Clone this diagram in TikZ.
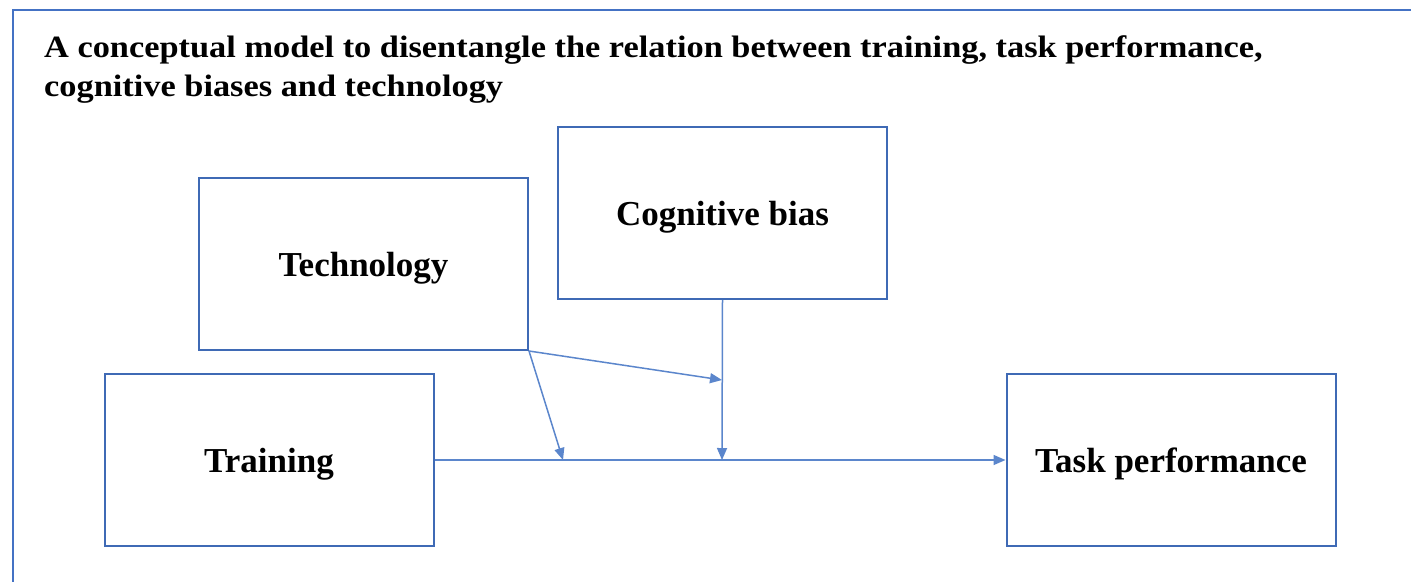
\documentclass[tikz,border=0pt]{standalone}
\usepackage{fontspec}
\setmainfont{Liberation Serif}
\newfontfamily\titlefont[FakeStretch=1.108]{Liberation Serif}
\usetikzlibrary{arrows.meta}
\definecolor{frameblue}{HTML}{4472C4}
\definecolor{boxblue}{HTML}{3F6AB5}
\definecolor{arrowblue}{HTML}{5B86CC}
\begin{document}
\begin{tikzpicture}[x=1pt,y=1pt,
  box/.style={draw=boxblue,line width=2pt,minimum width=329pt,minimum height=172pt,inner sep=0pt,text height=25pt,text depth=0pt,font=\bfseries\fontsize{35}{40}\selectfont},
  titletext/.style={anchor=base west,inner sep=0pt,font=\titlefont\bfseries\fontsize{31}{40}\selectfont},
  conn/.style={draw=arrowblue,line width=1.5pt,-{Triangle[length=12pt,width=10pt]}}]
\useasboundingbox (0,0) rectangle (1411,-582);
\fill[white] (0,0) rectangle (1411,-582);
\draw[frameblue,line width=2pt] (1411,-10) -- (13,-10) -- (13,-582);
\node[titletext] (title1) at (44,-57) {A conceptual model to disentangle the relation between training, task performance,};
\node[titletext] (title2) at (44,-96) {cognitive biases and technology};
\node[box] (tech) at (363.5,-264) {Technology};
\node[box] (cog) at (722.5,-213) {Cognitive bias};
\node[box] (train) at (269,-459.5) {Training};
\node[box] (task) at (1171,-459.5) {Task performance};
\coordinate (m1) at (563,-460);
\coordinate (m2) at (722,-460);
\coordinate (m3) at (722,-380);
\draw[conn] (train.east |- m1) -- (task.west |- m1);
\draw[conn] (cog.south) -- (m2);
\draw[conn] (tech.south east) -- (m3);
\draw[conn] (tech.south east) -- (m1);
\end{tikzpicture}
\end{document}
